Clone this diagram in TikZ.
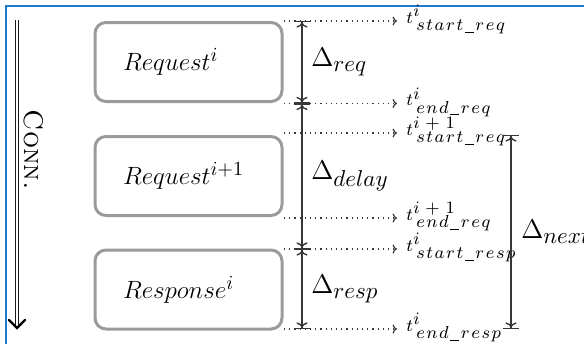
\RequirePackage{fix-cm}
\documentclass[tikz,border=0pt]{standalone}
\usetikzlibrary{arrows.meta,calc}
\DeclareMathSizes{12.5}{12.5}{10}{8}
\DeclareMathSizes{13.5}{13.5}{11.5}{9}
\definecolor{framblue}{RGB}{30,122,210}
\definecolor{boxgray}{RGB}{155,155,155}
\definecolor{linegray}{RGB}{55,55,55}
\makeatletter
\newcommand\spaced[2]{\def\sp@sep{}\@tfor\sp@t:=#2\do{\sp@sep\sp@t\def\sp@sep{\kern#1}}}
\makeatother
\newcommand\us{\vrule height -0.5pt depth 1pt width 4.5pt}
\newcommand\tlab[2]{$t$\kern0.2pt\rlap{\raisebox{3.2pt}{$\spaced{0.8pt}{#1}$}}\kern1.4pt\raisebox{-3.9pt}{$\spaced{0.8pt}{#2}$}}
\tikzset{
  msgbox/.style={draw=boxgray, line width=1.5pt, rounded corners=5.5pt,
    minimum width=93.5pt, minimum height=39.5pt, text width=65.5pt,
    inner xsep=14pt, align=left, font=\fontsize{12.5}{14}\selectfont},
  span/.style={draw=linegray, line width=0.7pt,
    {Bar[width=8pt]To[length=2.6pt,width=5.5pt]}-{To[length=2.6pt,width=5.5pt]Bar[width=8pt]}},
  tick/.style={draw=linegray, line width=0.6pt, dotted, -{To[length=2.2pt,width=4.5pt]}},
  tlabel/.style={anchor=base west, inner sep=0pt, font=\fontsize{8.7}{10}\selectfont},
  dlab/.style={anchor=west, inner sep=2pt, font=\fontsize{13.5}{15}\selectfont},
  connline/.style={draw=black!90, line width=0.6pt, double=white, double distance=0.8pt},
  conntip/.style={draw=black, line width=1.2pt, line cap=round, line join=miter},
}
\begin{document}
\begin{tikzpicture}[x=0.5pt,y=-0.5pt]
\useasboundingbox (0,0) rectangle (584,344);
% frame
\draw[framblue, line width=1pt] (5.5,344) -- (5.5,5.5) -- (584,5.5);
% connection arrow
\coordinate (cstart) at (17,20);
\coordinate (cend) at (17,328);
\draw[connline] (cstart) -- ($(cend)+(0,-2)$);
\draw[conntip] ($(cend)+(-8,-8)$) -- (cend) -- ($(cend)+(8,-8)$);
\node[rotate=-90, font=\fontsize{13.5}{15}\selectfont\scshape] (conn) at (33.5,150) {Conn.};
% boxes
\node[msgbox] (b1) at (188.5,62) {$Request^{i}$};
\node[msgbox] (b2) at (188.5,176) {$Request^{i+1}$};
\node[msgbox] (b3) at (188.5,289.5) {$Response^{i}$};
% time points
\foreach \n/\y in {1/21,2/103.5,3/133,4/218,5/249,6/329}{
  \coordinate (s\n) at (284,\y);
  \coordinate (e\n) at (397,\y);
  \coordinate (v\n) at (302,\y);
}
\foreach \n in {1,...,6}{ \draw[tick] (s\n) -- (e\n); }
\node[tlabel] (l1) at ($(e1)+(9,2)$) {\tlab{i}{start\us req}};
\node[tlabel] (l2) at ($(e2)+(9,2)$) {\tlab{i}{end\us req}};
\node[tlabel] (l3) at ($(e3)+(9,2)$) {\tlab{i+1}{start\us req}};
\node[tlabel] (l4) at ($(e4)+(9,2)$) {\tlab{i+1}{end\us req}};
\node[tlabel] (l5) at ($(e5)+(9,2)$) {\tlab{i}{start\us resp}};
\node[tlabel] (l6) at ($(e6)+(9,2)$) {\tlab{i}{end\us resp}};
% spans
\draw[span] (v1) -- (v2);
\draw[span] (v2) -- (v5);
\draw[span] (v5) -- (v6);
\node[dlab] (dreq) at (307,62) {$\Delta_{req}$};
\node[dlab] (ddelay) at (307,176) {$\Delta_{delay}$};
\node[dlab] (dresp) at (307,289) {$\Delta_{resp}$};
\coordinate (n1) at (511,135);
\coordinate (n2) at (511,329);
\draw[span] (n1) -- (n2);
\node[dlab] (dnext) at (517,232) {$\Delta_{next}$};
\end{tikzpicture}
\end{document}
